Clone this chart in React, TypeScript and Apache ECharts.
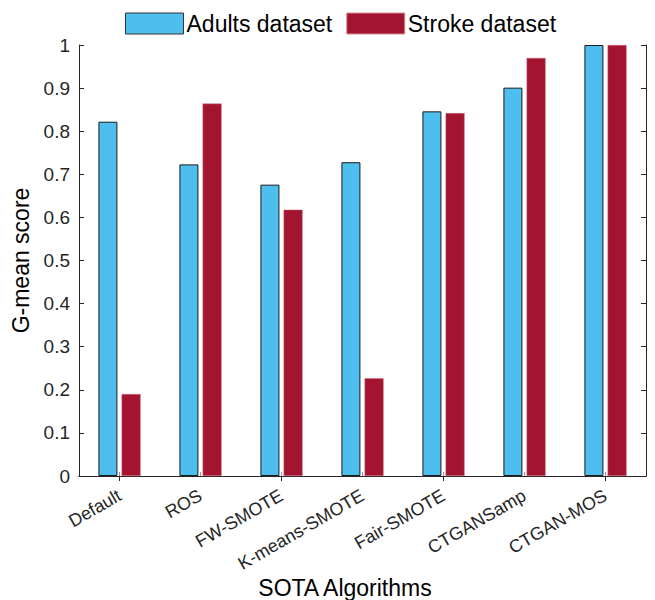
import React, { useEffect, useRef } from "react";
import * as echarts from "echarts";

const categories = ["Default", "ROS", "FW-SMOTE", "K-means-SMOTE", "Fair-SMOTE", "CTGANSamp", "CTGAN-MOS"];
const adults = [0.822, 0.723, 0.676, 0.728, 0.846, 0.901, 1.0];
const stroke = [0.19, 0.864, 0.618, 0.227, 0.842, 0.97, 1.0];
const seriesNames = ["Adults dataset", "Stroke dataset"];

const FONT = "'Liberation Sans', Arial, Helvetica, sans-serif";
const AX = "#262626";

export default function App() {
  const ref = useRef<HTMLDivElement>(null);
  useEffect(() => {
    document.body.style.margin = "0";
    if (!ref.current) return;
    const chart = echarts.init(ref.current, null, { renderer: "svg" });
    chart.setOption({
      animation: false,
      textStyle: { fontFamily: FONT },
      legend: {
        left: 120,
        top: 7,
        icon: "rect",
        itemWidth: 58,
        itemHeight: 21,
        itemGap: 14,
        textStyle: { fontSize: 23, color: "#000", fontFamily: FONT, padding: [0, 0, 0, -2] },
        data: [
          { name: seriesNames[0], itemStyle: { color: "#4DBEEE", borderColor: "#333", borderWidth: 1 } },
          { name: seriesNames[1], itemStyle: { color: "#A2142F", borderColor: "#d88a98", borderWidth: 1 } },
        ],
      },
      grid: { left: 79, right: 9, top: 45, bottom: 124, containLabel: false, outerBoundsMode: "none" },
      xAxis: [
        {
          type: "category",
          data: categories,
          position: "bottom",
          name: "SOTA Algorithms",
          nameLocation: "middle",
          nameGap: 100,
          nameMoveOverlap: false,
          nameTextStyle: { fontSize: 23, color: "#000", padding: [0, 35, 0, 0] },
          axisLine: { show: true, lineStyle: { color: AX, width: 1 } },
          axisTick: { show: true, inside: true, alignWithLabel: true, length: 4, lineStyle: { color: "#999" } },
          axisLabel: { rotate: 30, fontSize: 18, color: "#262626", margin: 18, interval: 0 },
          splitLine: { show: false },
        },
        {
          type: "category",
          data: categories,
          position: "top",
          axisLine: { show: true, lineStyle: { color: AX, width: 1 } },
          axisTick: { show: true, inside: true, alignWithLabel: true, length: 5, lineStyle: { color: AX } },
          axisLabel: { show: false },
          splitLine: { show: false },
        },
      ],
      yAxis: [
        {
          type: "value",
          min: 0,
          max: 1,
          interval: 0.1,
          position: "left",
          name: "G-mean score",
          nameLocation: "middle",
          nameGap: 45,
          nameTextStyle: { fontSize: 23, color: "#000" },
          axisLine: { show: true, lineStyle: { color: AX, width: 1 } },
          axisTick: { show: true, inside: true, length: 5, lineStyle: { color: AX } },
          axisLabel: { fontSize: 19, color: "#262626", margin: 9 },
          splitLine: { show: false },
        },
        {
          type: "value",
          min: 0,
          max: 1,
          interval: 0.1,
          position: "right",
          axisLine: { show: true, lineStyle: { color: AX, width: 1 } },
          axisTick: { show: true, inside: true, length: 5, lineStyle: { color: AX } },
          axisLabel: { show: false },
          splitLine: { show: false },
        },
      ],
      series: [
        {
          name: seriesNames[0],
          type: "bar",
          data: adults,
          barWidth: 19,
          barGap: "22%",
          itemStyle: { color: "#4DBEEE", borderColor: "#1a1a1a", borderWidth: 1 },
        },
        {
          name: seriesNames[1],
          type: "bar",
          data: stroke,
          barWidth: 19,
          barGap: "22%",
          itemStyle: { color: "#A2142F", borderColor: "#c9707f", borderWidth: 0.5 },
        },
      ],
    });
    return () => chart.dispose();
  }, []);
  return <div ref={ref} style={{ width: 655, height: 600 }} />;
}
